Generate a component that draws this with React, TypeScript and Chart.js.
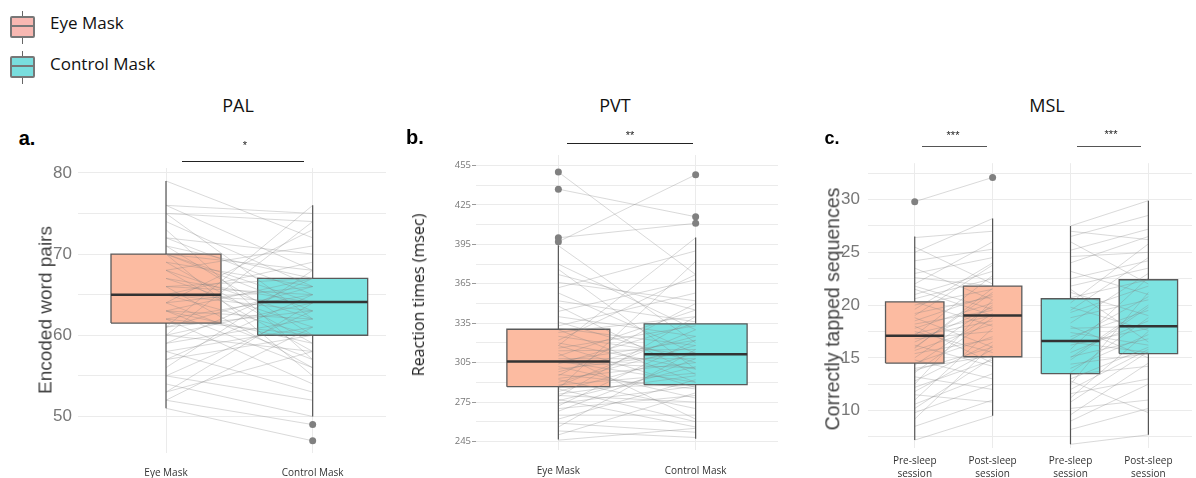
import React, { useEffect, useRef } from 'react';
import { Chart, registerables } from 'chart.js';
Chart.register(...registerables);

// ---------- PAL (panel a) ----------
const palCategories = ['Eye Mask', 'Control Mask'];
const palEye = [79, 76, 76, 75, 75, 74, 73, 72, 72, 71, 71, 70, 70, 70, 70, 69, 69, 68, 68, 68, 67, 67, 66, 66, 66, 65, 65, 65, 65, 64, 64, 64, 63, 63, 63, 62, 62, 62, 61, 61, 61, 60, 60, 59, 59, 58, 58, 57, 57, 56, 55, 55, 54, 53, 53, 52, 52, 51, 60, 63];
const palControl = [72, 75, 68, 62, 74, 66, 57, 65, 70, 60, 67, 63, 55, 68, 64, 59, 66, 62, 71, 58, 64, 61, 67, 56, 65, 63, 69, 60, 64, 66, 57, 73, 62, 67, 59, 65, 54, 60, 66, 76, 63, 58, 64, 62, 67, 53, 61, 65, 60, 68, 63, 52, 50, 64, 58, 49, 61, 47, 74, 56];
const palQ1 = [61.5, 60];
const palMedian = [65, 64.1];
const palQ3 = [70, 67];
const palWhiskerLow = [51, 50];
const palWhiskerHigh = [79, 76];
const palOutliers = [[], [49, 47]];
const palTickLabels = [50, 60, 70, 80];
const palGridValues = [50, 55, 60, 65, 70, 75, 80];

// ---------- PVT (panel b) ----------
const pvtCategories = ['Eye Mask', 'Control Mask'];
const pvtEye = [450, 437, 400, 397, 394, 380, 376, 372, 366, 362, 358, 352, 348, 344, 340, 336, 333, 331, 330, 328, 325, 322, 320, 318, 316, 314, 312, 310, 308, 306, 306, 305, 304, 302, 300, 298, 296, 295, 293, 292, 290, 288, 287, 286, 285, 283, 281, 280, 279, 277, 276, 274, 272, 270, 268, 265, 262, 259, 256, 253, 250, 246, 318, 285];
const pvtControl = [372, 416, 411, 448, 320, 330, 300, 345, 352, 390, 312, 336, 296, 368, 325, 305, 358, 318, 290, 340, 310, 372, 300, 286, 333, 315, 262, 345, 308, 322, 290, 301, 335, 278, 313, 325, 285, 350, 305, 270, 318, 297, 330, 288, 260, 312, 295, 275, 340, 256, 302, 287, 322, 280, 308, 265, 292, 252, 315, 248, 282, 255, 400, 382];
const pvtQ1 = [286.7, 288.2];
const pvtMedian = [305.8, 311.4];
const pvtQ3 = [330.4, 334.5];
const pvtWhiskerLow = [246.5, 247];
const pvtWhiskerHigh = [394.4, 400.2];
const pvtOutliers = [[450, 437, 400, 397], [448, 416, 411]];
const pvtTickLabels = [245, 275, 305, 335, 365, 395, 425, 455];
const pvtGridValues = [245, 260, 275, 290, 305, 320, 335, 350, 365, 380, 395, 410, 425, 440, 455];

// ---------- MSL (panel c) ----------
const mslCategories = [['Pre-sleep', 'session'], ['Post-sleep', 'session'], ['Pre-sleep', 'session'], ['Post-sleep', 'session']];
const mslEyePre = [29.8, 26.4, 25.5, 25.0, 24.2, 23.5, 23.0, 22.6, 22.0, 21.5, 21.0, 20.6, 20.3, 20.0, 19.6, 19.2, 18.8, 18.5, 18.2, 17.8, 17.5, 17.3, 17.1, 17.0, 16.8, 16.5, 16.2, 16.0, 15.7, 15.4, 15.0, 14.8, 14.5, 14.3, 14.0, 13.6, 13.2, 12.8, 12.5, 12.2, 11.8, 11.5, 11.0, 10.6, 10.2, 9.8, 9.2, 8.5, 7.2, 19.0, 21.8, 15.9, 13.8, 18.0];
const mslEyePost = [32.1, 27.0, 22.0, 28.2, 25.3, 20.5, 24.5, 21.8, 26.0, 19.0, 23.2, 22.5, 18.0, 21.5, 24.0, 20.8, 16.0, 21.0, 19.5, 20.2, 15.5, 19.0, 22.8, 18.5, 17.5, 19.8, 14.2, 21.2, 18.2, 16.8, 20.0, 13.0, 17.0, 19.2, 15.2, 18.8, 12.0, 16.5, 20.5, 14.8, 15.8, 10.8, 17.8, 13.5, 15.0, 12.5, 16.2, 11.0, 9.5, 23.8, 19.6, 21.6, 16.0, 14.5];
const mslControlPre = [27.5, 27.0, 26.5, 26.0, 25.2, 24.6, 24.0, 23.2, 22.5, 21.8, 21.2, 20.7, 20.2, 19.8, 19.3, 18.8, 18.3, 17.8, 17.4, 17.0, 16.7, 16.5, 16.2, 15.8, 15.5, 15.1, 14.8, 14.4, 14.0, 13.6, 13.4, 13.0, 12.5, 12.0, 11.6, 11.2, 10.8, 10.2, 9.6, 9.0, 8.2, 6.8, 19.5, 21.5, 15.0, 12.8, 18.0];
const mslControlPost = [29.9, 26.2, 28.5, 22.0, 27.2, 25.0, 26.5, 21.0, 24.2, 23.5, 19.0, 22.4, 25.8, 17.6, 21.8, 20.5, 23.0, 18.0, 16.2, 19.5, 20.8, 15.5, 17.8, 22.6, 18.5, 16.8, 19.8, 15.4, 17.2, 18.8, 14.2, 16.0, 21.2, 15.8, 13.0, 17.5, 15.6, 11.0, 14.5, 12.5, 10.2, 7.7, 24.5, 16.5, 20.0, 9.8, 15.0];
const mslQ1 = [14.5, 15.1, 13.5, 15.4];
const mslMedian = [17.1, 19.0, 16.6, 18.0];
const mslQ3 = [20.3, 21.8, 20.6, 22.4];
const mslWhiskerLow = [7.2, 9.5, 6.8, 7.7];
const mslWhiskerHigh = [26.5, 28.2, 27.5, 29.9];
const mslOutliers = [[29.8], [32.1], [], []];
const mslTickLabels = [10, 15, 20, 25, 30];
const mslGridValues = [7.5, 10, 12.5, 15, 17.5, 20, 22.5, 25, 27.5, 30, 32.5];

const EYE_FILL = '#FCBBA1';
const CONTROL_FILL = '#7DE3E1';
const SANS = '"Open Sans", "Noto Sans", sans-serif';
const ARIAL = '"Liberation Sans", Arial, sans-serif';
const HALF_W = 0.375;

type PanelSpec = {
  left: number; top: number; width: number; height: number;
  padTop: number; padRight: number; yW: number; xH: number;
  xMin: number; xMax: number; yMin: number; yMax: number;
  catLabels: any[]; fills: string[];
  q1: number[]; med: number[]; q3: number[]; lo: number[]; hi: number[];
  outliers: number[][];
  pairs: { xa: number; xb: number; a: number[]; b: number[] }[];
  gridValues: number[]; tickLabels: number[];
  tickFont: any; tickColor: string; tickPadding: number; drawTicks: boolean;
  xPadding: number;
};

function buildDatasets(p: PanelSpec) {
  const ds: any[] = [];
  p.q1.forEach((_, i) => {
    const x = i + 1;
    ds.push({
      data: [
        { x: x - HALF_W, y: p.q1[i] }, { x: x - HALF_W, y: p.q3[i] },
        { x: x + HALF_W, y: p.q3[i] }, { x: x + HALF_W, y: p.q1[i] },
        { x: x - HALF_W, y: p.q1[i] },
      ],
      borderColor: '#5a5a5a', borderWidth: 1.3, backgroundColor: p.fills[i],
      fill: 'shape', pointRadius: 0, order: 10, tension: 0,
    });
    ds.push({
      data: [{ x: x - HALF_W, y: p.med[i] }, { x: x + HALF_W, y: p.med[i] }],
      borderColor: '#333', borderWidth: 2.5, pointRadius: 0, order: 4, fill: false,
    });
    ds.push({
      data: [{ x, y: p.lo[i] }, { x, y: p.q1[i] }, { x, y: null }, { x, y: p.q3[i] }, { x, y: p.hi[i] }],
      borderColor: '#555', borderWidth: 1.2, pointRadius: 0, order: 3, fill: false, spanGaps: false,
    });
    if (p.outliers[i].length) {
      ds.push({
        data: p.outliers[i].map((v) => ({ x, y: v })),
        showLine: false, pointRadius: 3.5, pointBackgroundColor: '#808080',
        pointBorderWidth: 0, borderColor: '#808080', order: 1, fill: false,
      });
    }
  });
  p.pairs.forEach((pr) => {
    const data: any[] = [];
    pr.a.forEach((v, i) => {
      data.push({ x: pr.xa, y: v }, { x: pr.xb, y: pr.b[i] }, { x: (pr.xa + pr.xb) / 2, y: null });
    });
    ds.push({
      data, borderColor: 'rgba(130,130,130,0.3)', borderWidth: 1, pointRadius: 0,
      order: 6, fill: false, spanGaps: false,
    });
  });
  return ds;
}

function Panel({ spec }: { spec: PanelSpec }) {
  const ref = useRef<HTMLCanvasElement>(null);
  useEffect(() => {
    const p = spec;
    const isMajor = (v: number) => p.tickLabels.some((t) => Math.abs(t - v) < 1e-6);
    const chart = new Chart(ref.current as HTMLCanvasElement, {
      type: 'line',
      data: { datasets: buildDatasets(p) },
      options: {
        animation: false,
        responsive: false,
        events: [],
        layout: { padding: { top: p.padTop, right: p.padRight, left: 0, bottom: 0 } },
        plugins: { legend: { display: false }, tooltip: { enabled: false } },
        scales: {
          x: {
            type: 'linear', min: p.xMin, max: p.xMax,
            afterBuildTicks: (s: any) => { s.ticks = p.catLabels.map((_, i) => ({ value: i + 1 })); },
            afterFit: (s: any) => { s.height = p.xH; },
            ticks: {
              callback: (v: any) => p.catLabels[Math.round(Number(v)) - 1] ?? '',
              font: { family: SANS, size: 10, lineHeight: 1.25 }, color: '#333', padding: p.xPadding,
              maxRotation: 0, autoSkip: false,
            },
            grid: { color: '#ebebeb', lineWidth: 1, drawTicks: false },
            border: { display: false },
          },
          y: {
            type: 'linear', min: p.yMin, max: p.yMax,
            afterBuildTicks: (s: any) => { s.ticks = p.gridValues.map((v) => ({ value: v })); },
            afterFit: (s: any) => { s.width = p.yW; },
            ticks: {
              callback: (v: any) => (isMajor(Number(v)) ? String(v) : ''),
              font: p.tickFont, color: p.tickColor, padding: p.tickPadding, autoSkip: false,
            },
            grid: {
              color: '#ebebeb', lineWidth: 1, drawTicks: p.drawTicks, tickLength: 4,
              tickColor: (c: any) => (c.tick && isMajor(c.tick.value) ? '#999' : 'rgba(0,0,0,0)'),
            },
            border: { display: false },
          },
        },
      } as any,
    });
    return () => chart.destroy();
  }, [spec]);
  return (
    <canvas
      ref={ref}
      width={spec.width}
      height={spec.height}
      style={{ position: 'absolute', left: spec.left, top: spec.top, width: spec.width, height: spec.height }}
    />
  );
}

const palSpec: PanelSpec = {
  left: 0, top: 150, width: 392, height: 328, padTop: 18, padRight: 6, yW: 78, xH: 25,
  xMin: 0.4, xMax: 2.5, yMin: 45.5, yMax: 80.6,
  catLabels: palCategories, fills: [EYE_FILL, CONTROL_FILL],
  q1: palQ1, med: palMedian, q3: palQ3, lo: palWhiskerLow, hi: palWhiskerHigh, outliers: palOutliers,
  pairs: [{ xa: 1, xb: 2, a: palEye, b: palControl }],
  gridValues: palGridValues, tickLabels: palTickLabels,
  tickFont: { family: ARIAL, size: 17 }, tickColor: '#777', tickPadding: 6, drawTicks: false,
  xPadding: 14,
};

const pvtSpec: PanelSpec = {
  left: 400, top: 140, width: 385, height: 338, padTop: 15, padRight: 7, yW: 76, xH: 28,
  xMin: 0.4, xMax: 2.6, yMin: 238.5, yMax: 463,
  catLabels: pvtCategories, fills: [EYE_FILL, CONTROL_FILL],
  q1: pvtQ1, med: pvtMedian, q3: pvtQ3, lo: pvtWhiskerLow, hi: pvtWhiskerHigh, outliers: pvtOutliers,
  pairs: [{ xa: 1, xb: 2, a: pvtEye, b: pvtControl }],
  gridValues: pvtGridValues, tickLabels: pvtTickLabels,
  tickFont: { family: SANS, size: 9.5 }, tickColor: '#777', tickPadding: 1, drawTicks: true,
  xPadding: 15,
};

const mslSpec: PanelSpec = {
  left: 790, top: 145, width: 406, height: 333, padTop: 17, padRight: 0, yW: 78, xH: 30,
  xMin: 0.4, xMax: 4.56, yMin: 6.45, yMax: 33.45,
  catLabels: mslCategories, fills: [EYE_FILL, EYE_FILL, CONTROL_FILL, CONTROL_FILL],
  q1: mslQ1, med: mslMedian, q3: mslQ3, lo: mslWhiskerLow, hi: mslWhiskerHigh, outliers: mslOutliers,
  pairs: [
    { xa: 1, xb: 2, a: mslEyePre, b: mslEyePost },
    { xa: 3, xb: 4, a: mslControlPre, b: mslControlPost },
  ],
  gridValues: mslGridValues, tickLabels: mslTickLabels,
  tickFont: { family: ARIAL, size: 17 }, tickColor: '#777', tickPadding: 8, drawTicks: false,
  xPadding: 7,
};

function Txt({ x, y, children, style }: any) {
  return (
    <div style={{ position: 'absolute', left: x, top: y, transform: 'translate(-50%,-50%)', whiteSpace: 'nowrap', lineHeight: 1, ...style }}>
      {children}
    </div>
  );
}

function VTxt({ x, y, children, style }: any) {
  return (
    <div style={{ position: 'absolute', left: x, top: y, transform: 'translate(-50%,-50%) rotate(-90deg)', whiteSpace: 'nowrap', lineHeight: 1, ...style }}>
      {children}
    </div>
  );
}

function HLine({ x1, x2, y, color }: any) {
  return <div style={{ position: 'absolute', left: x1, top: y, width: x2 - x1, height: 0, borderTop: `1px solid ${color}` }} />;
}

function LegendIcon({ top, fill }: any) {
  return (
    <div style={{ position: 'absolute', left: 10, top, width: 25, height: 33 }}>
      <div style={{ position: 'absolute', left: 11.5, top: 0, width: 1.5, height: 33, background: '#666' }} />
      <div style={{ position: 'absolute', left: 0, top: 5, width: 21, height: 18, background: fill, border: '2px solid #777', borderRadius: 2 }} />
      <div style={{ position: 'absolute', left: 2, top: 14, width: 21, height: 2, background: '#777' }} />
    </div>
  );
}

export default function App() {
  const titleStyle = { fontFamily: SANS, fontSize: 18, color: '#111' };
  const letterStyle = { fontFamily: ARIAL, fontWeight: 'bold', fontSize: 20, color: '#000' };
  const starStyle = { fontFamily: ARIAL, fontSize: 11, color: '#222' };
  return (
    <div style={{ position: 'absolute', left: 0, top: 0, width: 1196, height: 478, background: '#fff', overflow: 'hidden' }}>
      <LegendIcon top={11} fill="#F8B8B2" />
      <LegendIcon top={51} fill="#79DEDE" />
      <div style={{ position: 'absolute', left: 50, top: 22, transform: 'translateY(-50%)', fontFamily: SANS, fontSize: 17, lineHeight: 1, color: '#111', whiteSpace: 'nowrap' }}>Eye Mask</div>
      <div style={{ position: 'absolute', left: 50, top: 63, transform: 'translateY(-50%)', fontFamily: SANS, fontSize: 17, lineHeight: 1, color: '#111', whiteSpace: 'nowrap' }}>Control Mask</div>

      <Panel spec={palSpec} />
      <Panel spec={pvtSpec} />
      <Panel spec={mslSpec} />

      <Txt x={238} y={105} style={titleStyle}>PAL</Txt>
      <Txt x={615} y={105} style={titleStyle}>PVT</Txt>
      <Txt x={1047} y={105} style={titleStyle}>MSL</Txt>

      <Txt x={27} y={138} style={letterStyle}>a.</Txt>
      <Txt x={415} y={137} style={letterStyle}>b.</Txt>
      <Txt x={832} y={138} style={{ ...letterStyle, fontSize: 18 }}>c.</Txt>

      <VTxt x={45} y={310} style={{ fontFamily: ARIAL, fontSize: 19, color: '#444' }}>Encoded word pairs</VTxt>
      <VTxt x={418} y={295} style={{ fontFamily: SANS, fontSize: 16, color: '#222' }}>Reaction times (msec)</VTxt>
      <VTxt x={833} y={309} style={{ fontFamily: ARIAL, fontSize: 19.5, color: '#444' }}>Correctly tapped sequences</VTxt>

      <Txt x={245} y={145} style={starStyle}>*</Txt>
      <HLine x1={182} x2={304} y={161} color="#222" />
      <Txt x={630} y={135} style={starStyle}>**</Txt>
      <HLine x1={567} x2={693} y={143} color="#222" />
      <Txt x={953} y={135} style={starStyle}>***</Txt>
      <HLine x1={922} x2={987} y={146} color="#555" />
      <Txt x={1111} y={134} style={starStyle}>***</Txt>
      <HLine x1={1077} x2={1141} y={146} color="#555" />
    </div>
  );
}
